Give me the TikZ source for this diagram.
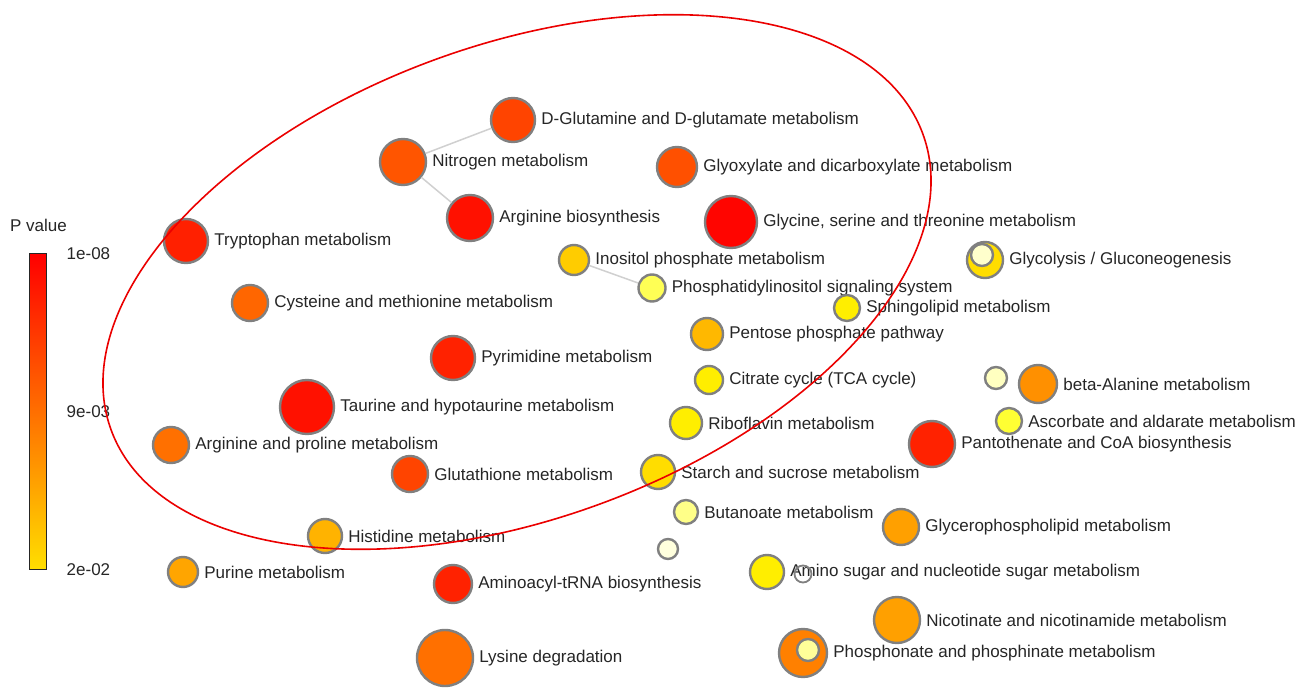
\documentclass[tikz,border=0pt]{standalone}
\usepackage{fontspec}
\setmainfont{Liberation Sans}
\usepackage{tikz}
\usetikzlibrary{positioning}
\definecolor{rimgray}{RGB}{128,128,128}
\definecolor{edgegray}{RGB}{208,208,208}
\definecolor{ovalred}{RGB}{235,0,0}
\definecolor{txtgray}{RGB}{38,38,38}

\tikzset{
  pw/.style={circle, draw=rimgray, line width=2.4pt, inner sep=0pt},
  pwlabel/.style={text=txtgray, font=\fontsize{17}{20}\selectfont, inner sep=1pt},
  link/.style={edgegray, line width=1.5pt},
}

\begin{document}
\begin{tikzpicture}[x=1pt,y=-1pt]
  \useasboundingbox[fill=white] (0,0) rectangle (1307,692);

  % Colour bar
  \node[draw=black!85, line width=1pt, minimum width=17pt, minimum height=315pt, inner sep=0pt,
        top color=red, middle color={rgb,255:red,255;green,100;blue,0}, bottom color={rgb,255:red,255;green,222;blue,0}]
        (pbar) at (37.5,411.5) {};
  \node[pwlabel, above=21pt of pbar, xshift=1pt] (ptitle) {P value};
  \node[pwlabel, right=19pt of pbar.north east] (ptop) {1e-08};
  \node[pwlabel, right=19pt of pbar.east] (pmid) {9e-03};
  \node[pwlabel, right=19pt of pbar.south east] (pbot) {2e-02};

  % Pathways: name/x/y/diameter/colour/label
  \foreach \n/\x/\y/\d/\c/\t in {
      dglu/513/120/44/FF4400/{D-Glutamine and D-glutamate metabolism},
      nitro/403/162/46/FF5500/{Nitrogen metabolism},
      argbio/470/218/46/FF1100/{Arginine biosynthesis},
      glyox/677/167/40/FF5000/{Glyoxylate and dicarboxylate metabolism},
      glyser/731/222/52/FF0500/{Glycine, serine and threonine metabolism},
      tryp/186/241/44/FF2000/{Tryptophan metabolism},
      inos/574/260/30/FFCC00/{Inositol phosphate metabolism},
      phosi/652/288/27/FFFF55/{Phosphatidylinositol signaling system},
      glycol/985/260/36/FFDD00/{Glycolysis / Gluconeogenesis},
      sphingo/847/308/26/FFEE00/{Sphingolipid metabolism},
      cyst/250/303/36/FF6600/{Cysteine and methionine metabolism},
      pentose/707/334/32/FFB800/{Pentose phosphate pathway},
      pyrim/453/358/44/FF2200/{Pyrimidine metabolism},
      citrate/709/380/28/FFEE00/{Citrate cycle (TCA cycle)},
      betaala/1038/384/38/FF9000/{beta-Alanine metabolism},
      taurine/307/407/54/FF1100/{Taurine and hypotaurine metabolism},
      ascorb/1009/421/26/FFFF33/{Ascorbate and aldarate metabolism},
      ribo/686/423/32/FFEE00/{Riboflavin metabolism},
      panto/932/444/46/FF2200/{Pantothenate and CoA biosynthesis},
      argpro/171/445/36/FF7000/{Arginine and proline metabolism},
      gluta/410/474/36/FF4400/{Glutathione metabolism},
      starch/658/472/34/FFDD00/{Starch and sucrose metabolism},
      butan/686/512/24/FFFF88/{Butanoate metabolism},
      glycero/901/527/36/FFA000/{Glycerophospholipid metabolism},
      histi/325/536/34/FFB300/{Histidine metabolism},
      purine/183/572/30/FFA500/{Purine metabolism},
      trna/453/584/38/FF2200/{Aminoacyl-tRNA biosynthesis},
      amsug/767/572/34/FFEE00/{Amino sugar and nucleotide sugar metabolism},
      nicot/897/620/46/FFA000/{Nicotinate and nicotinamide metabolism},
      lysine/445/658/56/FF7000/{Lysine degradation},
      phosph/803/653/48/FF8000/{Phosphonate and phosphinate metabolism}} {
    \definecolor{pwfill}{HTML}{\c}
    \node[pw, fill=pwfill, minimum size=\d pt] (\n) at (\x,\y) {};
    \node[pwlabel, right=4pt of \n] (\n-lbl) {\t};
  }

  % Unlabelled and nested circles
  \foreach \n/\x/\y/\d/\c in {
      pale1/996/378/22/FFFFC0, pale2/668/549/20/FFFFDD,
      glycolin/982/255/22/FFFFCC, phosphin/808/650/22/FFFF99} {
    \definecolor{pwfill}{HTML}{\c}
    \node[pw, fill=pwfill, minimum size=\d pt] (\n) at (\x,\y) {};
  }
  \node[pw, line width=1.8pt, minimum size=17pt] (pale3) at (803,574) {};

  % Links
  \draw[link] (nitro) -- (dglu);
  \draw[link] (nitro) -- (argbio);
  \draw[link] (inos) -- (phosi);

  % Highlighted cluster
  \draw[ovalred, line width=1.6pt, rotate around={20:(517,282)}] (517,282) ellipse [x radius=432, y radius=237];
\end{tikzpicture}
\end{document}
